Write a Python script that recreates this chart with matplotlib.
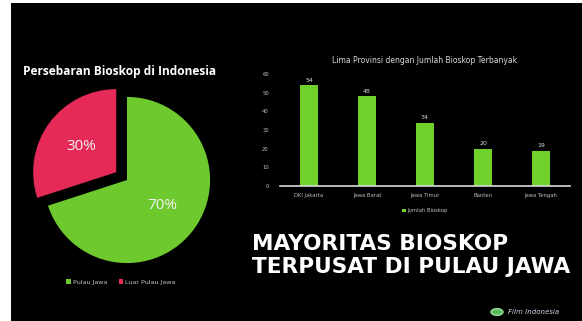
import matplotlib.pyplot as plt
from matplotlib.patches import Rectangle, Circle

# pie data
pie_labels = ["Pulau Jawa", "Luar Pulau Jawa"]
pie_values = [70, 30]
pie_colors = ["#6ec92e", "#e52a57"]

# bar data
provinces = ["DKI Jakarta", "Jawa Barat", "Jawa Timur", "Banten", "Jawa Tengah"]
bioskop = [54, 48, 34, 20, 19]
y_ticks = [0, 10, 20, 30, 40, 50, 60]

W, H = 582, 321
fig = plt.figure(figsize=(W / 100, H / 100), dpi=100, facecolor="white")

# black slide background
fig.patches.append(Rectangle((11 / W, 0), 1, 1 - 3 / H, transform=fig.transFigure,
                             facecolor="black", edgecolor="none", zorder=-10))

# pie chart
ax1 = fig.add_axes([19 / W, 33 / H, 216 / W, 216 / H])
ax1.set_facecolor("none")
wedges, texts, autotexts = ax1.pie(pie_values, colors=pie_colors, startangle=90,
                                   counterclock=False, explode=[0, 0.16],
                                   autopct="%d%%", pctdistance=0.52,
                                   textprops={"color": "#f2f2f2", "fontsize": 11,
                                              "family": "Open Sans"})
ax1.set_xlim(-1.3, 1.3)
ax1.set_ylim(-1.3, 1.3)
ax1.set_aspect("equal")
ax1.axis("off")

fig.text(120 / W, 1 - 72 / H, "Persebaran Bioskop di Indonesia", color="white",
         fontsize=8.6, fontweight="bold", family="Open Sans", ha="center", va="center")

leg1 = fig.legend(wedges, pie_labels, loc="center", bbox_to_anchor=(121 / W, 1 - 282 / H),
                  ncol=2, frameon=False, fontsize=4.6, labelcolor="#bfbfbf",
                  handlelength=0.7, handleheight=0.7, handletextpad=0.3, columnspacing=1.8)

# bar chart
ax2 = fig.add_axes([280 / W, 1 - 186 / H, 290 / W, 112 / H])
ax2.set_facecolor("none")
bars = ax2.bar(provinces, bioskop, width=0.31, color="#6fd12a", label="Jumlah Bioskop")
for b, v in zip(bars, bioskop):
    ax2.text(b.get_x() + b.get_width() / 2, v + 1.2, str(v), ha="center", va="bottom",
             color="#d9d9d9", fontsize=4.5)
ax2.set_xlim(-0.5, 4.5)
ax2.set_ylim(0, 60)
ax2.set_yticks(y_ticks)
ax2.tick_params(axis="both", length=0, labelsize=3.8, labelcolor="#bfbfbf")
ax2.tick_params(axis="y", pad=8)
ax2.tick_params(axis="x", pad=5)
for s in ["top", "right", "left"]:
    ax2.spines[s].set_visible(False)
ax2.spines["bottom"].set_color("#d9d9d9")
ax2.spines["bottom"].set_linewidth(1.2)
ax2.set_title("Lima Provinsi dengan Jumlah Bioskop Terbanyak", color="#d9d9d9",
              fontsize=5.5, pad=8)
ax2.legend(loc="center", bbox_to_anchor=(0.5, -0.22), frameon=False, fontsize=3.8,
           labelcolor="#bfbfbf", handlelength=0.6, handleheight=0.6, handletextpad=0.3)

# headline
fig.text(252 / W, 1 - 244 / H, "MAYORITAS BIOSKOP", color="white", fontsize=15.6,
         fontweight="bold", family="DejaVu Sans", ha="left", va="center")
fig.text(252 / W, 1 - 267 / H, "TERPUSAT DI PULAU JAWA", color="white", fontsize=15.6,
         fontweight="bold", family="DejaVu Sans", ha="left", va="center")

# logo
fig.patches.append(Circle((497 / W, 1 - 312 / H), 6 / W, transform=fig.transFigure,
                          facecolor="#5cb85c", edgecolor="#9be39b", zorder=3))
fig.text(508 / W, 1 - 312 / H, "Film Indonesia", color="#cfd8ec", fontsize=5,
         style="italic", ha="left", va="center")

fig.savefig("out.png", dpi=100, facecolor="white")
